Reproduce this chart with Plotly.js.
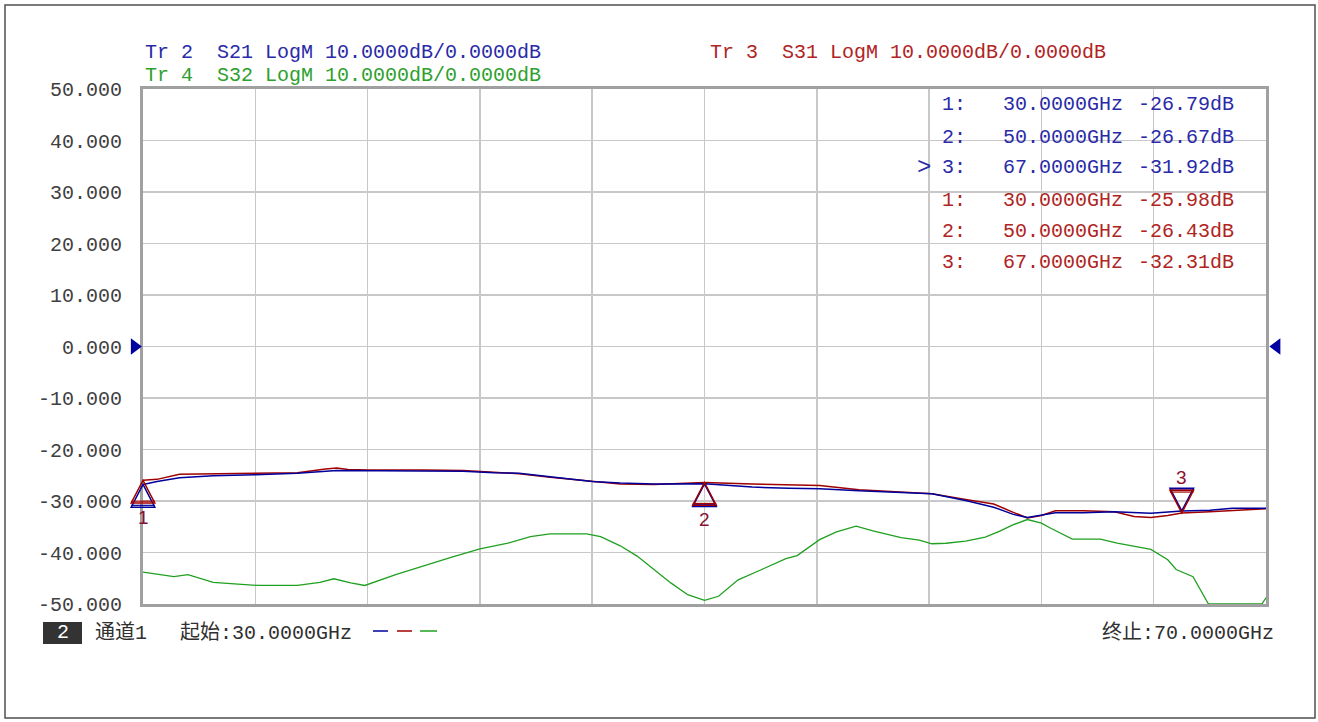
<!DOCTYPE html>
<html>
<head>
<meta charset="utf-8">
<script src="https://cdn.plot.ly/plotly-3.0.1.min.js"></script>
<style>
html,body{margin:0;padding:0;background:#fff;}
#chart{width:1318px;height:722px;}
</style>
</head>
<body>
<div id="chart"></div>
<script>
// ---------------- data ----------------
const s21Freq = [30.0,30.5,31.3,32.5,34.0,35.5,36.9,38.0,40.0,41.4,42.5,43.4,44.5,46.0,47.0,48.2,50.0,51.7,53.0,54.1,55.5,57.0,58.1,59.3,60.3,61.0,61.5,62.5,63.5,64.6,65.3,65.9,67.0,68.0,68.8,70.0];
const s21Val  = [-26.79,-26.2,-25.5,-25.1,-24.9,-24.6,-24.1,-24.1,-24.1,-24.2,-24.5,-24.6,-25.3,-26.2,-26.5,-26.7,-26.67,-27.3,-27.5,-27.6,-28.0,-28.3,-28.6,-29.9,-31.2,-32.6,-33.2,-32.3,-32.3,-32.1,-32.2,-32.4,-31.92,-31.8,-31.4,-31.4];

const s31Freq = [30.0,30.5,31.3,32.5,34.0,35.5,36.5,36.9,37.3,38.0,40.0,41.4,42.5,43.4,44.5,46.0,47.0,48.2,50.0,51.7,53.0,54.1,55.5,57.0,58.1,59.3,60.3,61.0,61.5,62.0,62.5,63.5,64.6,65.3,65.9,66.5,67.0,68.0,68.8,70.0];
const s31Val  = [-25.98,-25.8,-24.8,-24.7,-24.6,-24.5,-23.8,-23.6,-23.9,-24.0,-24.0,-24.1,-24.4,-24.7,-25.4,-26.2,-26.7,-26.8,-26.43,-26.7,-26.9,-27.0,-27.8,-28.2,-28.6,-29.7,-30.6,-32.2,-33.3,-32.8,-31.9,-31.9,-32.1,-33.0,-33.2,-32.8,-32.31,-32.1,-31.9,-31.5];

const s32Freq = [30.0,31.1,31.6,32.5,34.1,35.5,36.3,36.8,37.4,37.9,39.0,40.2,41.0,42.0,43.0,43.8,44.5,45.8,46.3,47.0,47.6,48.2,48.8,49.4,50.0,50.5,51.2,52.0,52.9,53.3,53.7,54.1,54.7,55.4,56.0,56.5,57.0,57.65,58.1,58.6,59.3,60.0,60.5,61.0,61.5,62.0,62.3,63.1,64.1,64.7,65.3,65.9,66.5,66.8,67.4,67.7,67.95,69.85,70.0];
const s32Val  = [-43.8,-44.7,-44.3,-45.8,-46.4,-46.4,-45.8,-45.1,-45.9,-46.4,-44.3,-42.2,-40.9,-39.3,-38.2,-36.9,-36.4,-36.4,-36.9,-38.7,-40.7,-43.3,-45.9,-48.2,-49.3,-48.5,-45.3,-43.4,-41.2,-40.6,-39.0,-37.5,-36.0,-34.9,-35.8,-36.5,-37.1,-37.6,-38.3,-38.2,-37.8,-37.0,-35.9,-34.6,-33.6,-34.3,-35.2,-37.4,-37.4,-38.2,-38.8,-39.4,-41.4,-43.3,-44.7,-47.5,-50.0,-50.0,-48.8];

const markerNames = ["1","2","3"];
const markerFreq  = [30.0, 50.0, 67.0];
const markerS21   = [-26.79, -26.67, -31.92];
const markerS31   = [-25.98, -26.43, -32.31];
const markerUp    = [true, true, false];

const xRange = [30, 70];
const yRange = [-50, 50];
const yTickVals = [50,40,30,20,10,0,-10,-20,-30,-40,-50];
const yTickText = yTickVals.map(v => v.toFixed(3));

const headerS21 = "Tr 2  S21 LogM 10.0000dB/0.0000dB";
const headerS32 = "Tr 4  S32 LogM 10.0000dB/0.0000dB";
const headerS31 = "Tr 3  S31 LogM 10.0000dB/0.0000dB";
const startText = "起始:30.0000GHz";
const stopText  = "终止:70.0000GHz";
const chanText  = "通道1";

// ---------------- layout helpers ----------------
const W = 1318, H = 722;
const M = {l:143, r:52, t:89, b:118};
const PW = W - M.l - M.r, PH = H - M.t - M.b;
const px = x => (x - M.l) / PW;
const py = y => (H - M.b - y) / PH;
const fx = f => (f - xRange[0]) / (xRange[1] - xRange[0]);  // frequency -> paper x

const BLUE = '#00009c', RED = '#a00000', GREEN = '#20a020';
const TBLUE = '#2a2aa8', TRED = '#b02424', TGREEN = '#2ea02e';
const MONO = 'Liberation Mono, DejaVu Sans Mono, monospace';
const CJK = 'Liberation Mono, Noto Sans CJK SC, monospace';

const traces = [
  {x:s32Freq, y:s32Val, type:'scatter', mode:'lines', line:{color:GREEN, width:1.3}, hoverinfo:'skip'},
  {x:s31Freq, y:s31Val, type:'scatter', mode:'lines', line:{color:RED, width:1.5}, hoverinfo:'skip'},
  {x:s21Freq, y:s21Val, type:'scatter', mode:'lines', line:{color:BLUE, width:1.5}, hoverinfo:'skip'}
];

const shapes = [];
const annotations = [];

// outer frame
shapes.push({type:'rect', xref:'paper', yref:'paper', x0:px(5), x1:px(1315), y0:py(5), y1:py(718),
  line:{color:'#505050', width:1.5}, layer:'below'});

// marker triangles (paper-x so they are not clipped at the left edge)
const triW = 0.42 / (xRange[1] - xRange[0]);   // half-width in paper units (0.42 GHz)
const triH = 4.4;                               // height in dB
function tri(f, v, up, color) {
  const b = up ? v - triH : v + triH;
  const c = fx(f);
  shapes.push({type:'path', xref:'paper', yref:'y',
    path:`M ${c} ${v} L ${c-triW} ${b} L ${c+triW} ${b} Z`,
    line:{color:color, width:1.5}, fillcolor:'rgba(0,0,0,0)'});
  const b2 = up ? b + 0.35 : b - 0.35;
  shapes.push({type:'line', xref:'paper', yref:'y', x0:c-triW, x1:c+triW, y0:b2, y1:b2,
    line:{color:color, width:1.2}});
}
for (let i = 0; i < markerFreq.length; i++) {
  tri(markerFreq[i], markerS21[i], markerUp[i], BLUE);
  tri(markerFreq[i], markerS31[i], markerUp[i], RED);
  annotations.push({x:markerFreq[i], y:markerS31[i], xref:'x', yref:'y', text:markerNames[i],
    showarrow:false, yshift: markerUp[i] ? -37 : 35, font:{family:'Liberation Sans, Arial', size:19, color:'#8a1030'}});
}

// reference-level triangles at 0 dB
const refW = 11 / PW, refH = 1.6;
shapes.push({type:'path', xref:'paper', yref:'y', path:`M ${-refW-0.001} ${refH} L ${-0.001} 0 L ${-refW-0.001} ${-refH} Z`,
  fillcolor:'#0000a0', line:{width:0}});
shapes.push({type:'path', xref:'paper', yref:'y', path:`M ${1+0.003+refW} ${refH} L ${1+0.003} 0 L ${1+0.003+refW} ${-refH} Z`,
  fillcolor:'#0000a0', line:{width:0}});

// header texts
function txt(x, y, text, color, anchor, fam, size) {
  annotations.push({xref:'paper', yref:'paper', x:px(x), y:py(y), text:text, showarrow:false,
    xanchor:anchor||'left', yanchor:'middle', font:{family:fam||MONO, size:size||20, color:color}});
}
const nb = s => s.replace(/ /g, '\u00a0');
txt(143, 52, nb(headerS21), TBLUE);
txt(143, 76, nb(headerS32), TGREEN);
txt(708, 52, nb(headerS31), TRED);

// marker table
const rowsY = [105, 137, 168, 200, 231, 262];
for (let i = 0; i < 3; i++) {
  const yb = rowsY[i], yr = rowsY[i+3];
  txt(940, yb, markerNames[i] + ':', TBLUE);
  txt(1001, yb, markerFreq[i].toFixed(4) + 'GHz', TBLUE);
  txt(1236, yb, markerS21[i].toFixed(2) + 'dB', TBLUE, 'right');
  txt(940, yr, markerNames[i] + ':', TRED);
  txt(1001, yr, markerFreq[i].toFixed(4) + 'GHz', TRED);
  txt(1236, yr, markerS31[i].toFixed(2) + 'dB', TRED, 'right');
}
txt(915, 168, '>', TBLUE, 'left', MONO, 24);

// bottom status line
shapes.push({type:'rect', xref:'paper', yref:'paper', x0:px(43), x1:px(82), y0:py(622), y1:py(644),
  fillcolor:'#333333', line:{width:0}});
annotations.push({xref:'paper', yref:'paper', x:px(62.5), y:py(633), text:'2', showarrow:false,
  xanchor:'center', yanchor:'middle', font:{family:MONO, size:20, color:'#ffffff'}});
txt(93, 633, chanText, '#303030', 'left', CJK);
txt(178, 633, startText, '#303030', 'left', CJK);
txt(1276, 633, stopText, '#303030', 'right', CJK);
[[373,388,BLUE],[397,412,RED],[420,437,GREEN]].forEach(s => {
  shapes.push({type:'line', xref:'paper', yref:'paper', x0:px(s[0]), x1:px(s[1]), y0:py(631), y1:py(631),
    line:{color:s[2], width:1.5}});
});

const layout = {
  width:W, height:H,
  margin:M,
  paper_bgcolor:'#ffffff', plot_bgcolor:'#ffffff',
  showlegend:false,
  xaxis:{range:xRange, dtick:4, tick0:30, showticklabels:false, ticks:'',
    showgrid:true, gridcolor:'#c8c8c8', gridwidth:1.5, zeroline:false,
    showline:true, mirror:true, linecolor:'#a0a0a0', linewidth:3},
  yaxis:{range:yRange, tickmode:'array', tickvals:yTickVals, ticktext:yTickText,
    ticks:'outside', ticklen:14, tickcolor:'rgba(0,0,0,0)',
    tickfont:{family:MONO, size:20, color:'#404040'},
    showgrid:true, gridcolor:'#c8c8c8', gridwidth:1.5, zeroline:false,
    showline:true, mirror:true, linecolor:'#a0a0a0', linewidth:3},
  shapes:shapes,
  annotations:annotations
};

Plotly.newPlot('chart', traces, layout, {displayModeBar:false, staticPlot:true});
</script>
</body>
</html>
